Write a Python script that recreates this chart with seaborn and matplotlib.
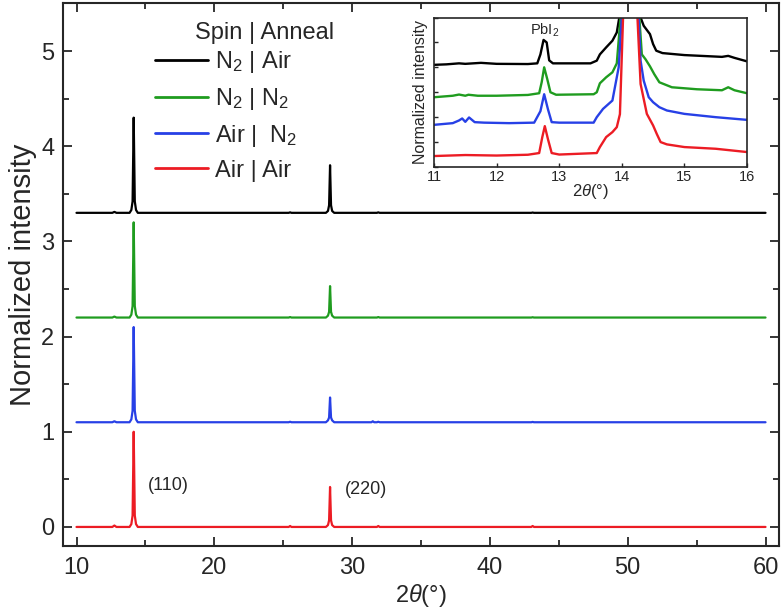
import numpy as np
import pandas as pd
import matplotlib
matplotlib.use("Agg")
import matplotlib.pyplot as plt
from matplotlib.ticker import MultipleLocator
import seaborn as sns

# ---------------- data ----------------
series_labels = ["N$_2$ | Air", "N$_2$ | N$_2$", "Air |  N$_2$", "Air | Air"]
series_colors = ["#000000", "#1f9c1f", "#2740e6", "#ec1c24"]
offsets = [3.3, 2.2, 1.1, 0.0]

# main XRD patterns (2theta, normalized intensity before offset)
main_x = [10.0, 12.6, 12.75, 12.9, 13.85, 13.98, 14.07, 14.15, 14.23, 14.32, 14.45,
          25.4, 25.5, 25.6, 28.1, 28.25, 28.33, 28.4, 28.47, 28.55, 28.7,
          31.4, 31.5, 31.6, 31.8, 31.9, 32.0, 43.0, 43.1, 43.2, 60.0]
main_black = [0.0, 0.0, 0.01, 0.0, 0.0, 0.03, 0.12, 1.0, 0.12, 0.03, 0.0,
              0.0, 0.005, 0.0, 0.0, 0.02, 0.08, 0.5, 0.08, 0.02, 0.0,
              0.0, 0.0, 0.0, 0.0, 0.005, 0.0, 0.0, 0.003, 0.0, 0.0]
main_green = [0.0, 0.0, 0.01, 0.0, 0.0, 0.03, 0.12, 1.0, 0.12, 0.03, 0.0,
              0.0, 0.005, 0.0, 0.0, 0.02, 0.06, 0.33, 0.06, 0.02, 0.0,
              0.0, 0.0, 0.0, 0.0, 0.005, 0.0, 0.0, 0.003, 0.0, 0.0]
main_blue = [0.0, 0.0, 0.01, 0.0, 0.0, 0.03, 0.12, 1.0, 0.12, 0.03, 0.0,
             0.0, 0.005, 0.0, 0.0, 0.02, 0.05, 0.26, 0.05, 0.02, 0.0,
             0.0, 0.01, 0.0, 0.0, 0.005, 0.0, 0.0, 0.003, 0.0, 0.0]
main_red = [0.0, 0.0, 0.015, 0.0, 0.0, 0.03, 0.12, 1.0, 0.12, 0.03, 0.0,
            0.0, 0.01, 0.0, 0.0, 0.02, 0.07, 0.42, 0.07, 0.02, 0.0,
            0.0, 0.0, 0.0, 0.0, 0.01, 0.0, 0.0, 0.01, 0.0, 0.0]
main_series = [main_black, main_green, main_blue, main_red]

# inset (zoom 11-16 deg, arbitrary stacked units)
ins_black_x = [11.0, 11.2, 11.4, 11.5, 11.75, 12.0, 12.5, 12.65, 12.7, 12.75, 12.8, 12.84, 12.9,
               13.5, 13.6, 13.65, 13.75, 13.85, 13.92, 13.96, 14.15, 14.3, 14.35, 14.45, 14.5,
               14.55, 14.65, 15.0, 15.6, 15.7, 15.8, 16.0]
ins_black_y = [102.5, 103.0, 104.0, 103.5, 104.5, 103.5, 103.3, 104.0, 113.0, 127.5, 125.0, 107.0, 104.0,
               104.0, 106.7, 113.0, 120.0, 126.7, 135.0, 150.0, 3000.0, 150.0, 141.7, 133.3, 123.3,
               116.7, 114.3, 112.3, 110.5, 111.5, 109.5, 106.0]
ins_green_x = [11.0, 11.3, 11.4, 11.5, 11.55, 11.7, 12.0, 12.5, 12.68, 12.72, 12.76, 12.81, 12.86, 12.95,
               13.55, 13.6, 13.65, 13.75, 13.85, 13.92, 13.98, 14.15, 14.28, 14.32, 14.38, 14.45,
               14.52, 14.6, 14.8, 15.2, 15.6, 15.7, 15.8, 16.0]
ins_green_y = [70.0, 71.5, 72.7, 71.5, 72.5, 71.5, 71.5, 72.3, 74.0, 85.0, 100.0, 88.0, 75.0, 72.5,
               73.0, 75.0, 84.0, 90.0, 95.0, 104.0, 150.0, 3000.0, 150.0, 113.0, 108.0, 101.0,
               93.0, 85.0, 80.0, 78.0, 77.0, 80.0, 77.0, 74.0]
ins_blue_x = [11.0, 11.3, 11.4, 11.45, 11.5, 11.56, 11.65, 11.8, 12.2, 12.6, 12.7, 12.76, 12.82, 12.88,
              13.0, 13.55, 13.6, 13.7, 13.85, 13.95, 14.0, 14.15, 14.27, 14.3, 14.35, 14.43, 14.5,
              14.6, 14.72, 15.0, 15.5, 16.0]
ins_blue_y = [42.3, 44.0, 46.7, 48.7, 45.3, 49.7, 45.0, 44.5, 44.0, 44.5, 56.0, 73.0, 58.0, 45.0,
              44.5, 44.5, 50.0, 58.3, 66.7, 100.0, 150.0, 3000.0, 150.0, 106.7, 86.7, 70.0, 65.0,
              60.0, 56.7, 53.3, 50.0, 47.3]
ins_red_x = [11.0, 11.5, 12.0, 12.5, 12.68, 12.73, 12.77, 12.82, 12.88, 13.0, 13.6, 13.65, 13.75,
             13.85, 13.92, 13.97, 14.02, 14.15, 14.25, 14.3, 14.4, 14.5, 14.56, 14.62, 14.72, 15.0,
             15.5, 16.0]
ins_red_y = [11.0, 12.0, 11.5, 12.3, 14.0, 30.0, 41.0, 28.0, 14.0, 12.5, 14.0, 20.0, 30.0,
             35.0, 40.0, 53.0, 150.0, 3000.0, 150.0, 83.3, 53.3, 41.7, 33.0, 25.0, 22.7, 20.0,
             18.3, 15.0]
inset_series = [(ins_black_x, ins_black_y), (ins_green_x, ins_green_y),
                (ins_blue_x, ins_blue_y), (ins_red_x, ins_red_y)]

peak_labels = ["(110)", "(220)"]
peak_label_pos = [(15.15, 0.44), (29.45, 0.39)]

# ---------------- style ----------------
sns.set_style("ticks")
plt.rcParams["font.family"] = ["Liberation Sans", "DejaVu Sans"]
plt.rcParams["mathtext.fontset"] = "custom"
plt.rcParams["mathtext.rm"] = "Liberation Sans"
plt.rcParams["mathtext.it"] = "Liberation Sans:italic"
plt.rcParams["mathtext.bf"] = "Liberation Sans:bold"

fig = plt.figure(figsize=(7.84, 6.11), dpi=100)
ax = fig.add_axes([0.080, 0.1064, 0.914, 0.888])

for ys, off, col, lab in zip(main_series, offsets, series_colors, series_labels):
    df = pd.DataFrame({"x": main_x, "y": np.asarray(ys) + off})
    sns.lineplot(data=df, x="x", y="y", ax=ax, color=col, lw=1.6,
                 estimator=None, sort=False, label=lab)

ax.set_xlim(9, 61)
ax.set_ylim(-0.2, 5.5)
ax.xaxis.set_major_locator(MultipleLocator(10))
ax.xaxis.set_minor_locator(MultipleLocator(5))
ax.yaxis.set_major_locator(MultipleLocator(1))
ax.yaxis.set_minor_locator(MultipleLocator(0.5))
ax.tick_params(which="both", direction="in", top=True, right=True, width=1.3)
ax.tick_params(which="major", length=6.5)
ax.tick_params(which="minor", length=4)
ax.tick_params(axis="x", which="major", labelsize=17, pad=8)
ax.tick_params(axis="y", which="major", labelsize=17, pad=6)
for sp in ax.spines.values():
    sp.set_linewidth(1.5)
ax.set_xlabel("2$\\it{\\theta}$(°)", fontsize=17, labelpad=2)
ax.set_ylabel("Normalized intensity", fontsize=21, labelpad=3)

for txt, (px, py) in zip(peak_labels, peak_label_pos):
    ax.text(px, py, txt, fontsize=13, ha="left", va="center")

leg = ax.legend(loc="upper left", bbox_to_anchor=(155 / 784, 1 - 49 / 611),
                bbox_transform=fig.transFigure, frameon=False, fontsize=17,
                handlelength=2.25, handletextpad=0.3, labelspacing=0.46,
                borderpad=0, borderaxespad=0)
for h in leg.get_lines():
    h.set_linewidth(2)
fig.text(264.5 / 784, 1 - 33 / 611, "Spin | Anneal", fontsize=17, ha="center", va="center")

# ---------------- inset ----------------
axi = fig.add_axes([434 / 784, 1 - 167 / 611, 313 / 784, 149.5 / 611])
for (xs, ys), col in zip(inset_series, series_colors):
    df = pd.DataFrame({"x": xs, "y": ys})
    sns.lineplot(data=df, x="x", y="y", ax=axi, color=col, lw=1.7,
                 estimator=None, sort=False, legend=False)
axi.set_xlim(11, 16)
axi.set_ylim(0, 150)
axi.xaxis.set_major_locator(MultipleLocator(1))
axi.yaxis.set_major_locator(MultipleLocator(25))
axi.set_yticklabels([])
axi.tick_params(direction="in", length=3, width=1, labelsize=10.5, pad=2)
for sp in axi.spines.values():
    sp.set_linewidth(1.2)
axi.set_xlabel("2$\\it{\\theta}$(°)", fontsize=12, labelpad=-1)
axi.set_ylabel("Normalized intensity", fontsize=11.5, labelpad=2)
axi.text(12.77, 137, "PbI$_2$", fontsize=10.5, ha="center", va="center")

fig.savefig("out.png", dpi=100)
